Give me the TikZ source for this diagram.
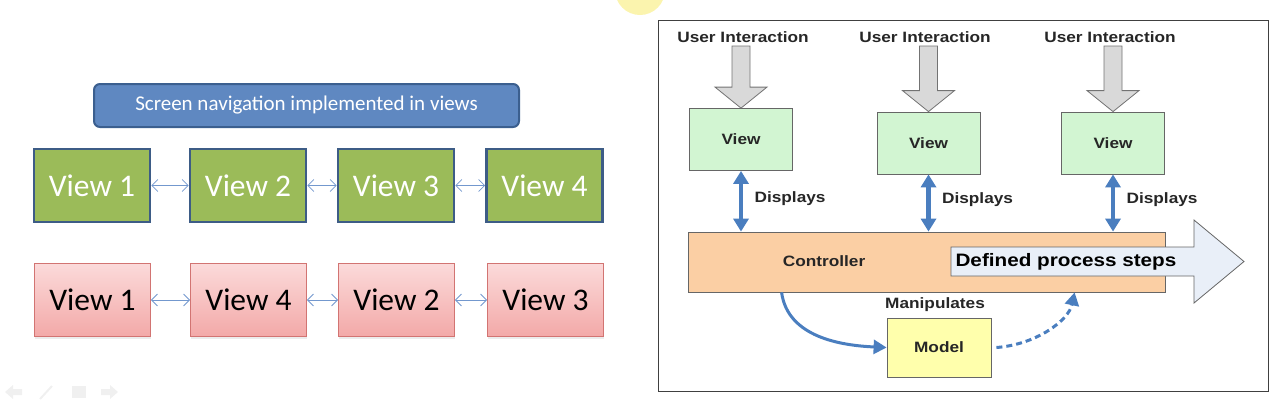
\documentclass[tikz,border=0pt]{standalone}
\usepackage{fontspec}
\setmainfont{Carlito}
\newfontfamily\mvcfont[FakeStretch=1.15]{Liberation Sans}
\usepackage{tikz}
\usetikzlibrary{arrows.meta,calc,shadows}

\definecolor{titlefill}{HTML}{5F88C1}
\definecolor{titleline}{HTML}{3B5F8F}
\definecolor{viewgreen}{HTML}{9BBB59}
\definecolor{viewline}{HTML}{3D5C86}
\definecolor{pinktop}{HTML}{FBDADA}
\definecolor{pinkbot}{HTML}{F3A9A8}
\definecolor{pinkline}{HTML}{D27472}
\definecolor{navblue}{HTML}{7398CE}
\definecolor{mvcblue}{HTML}{4A7EBF}
\definecolor{mvcgreen}{HTML}{D2F5D2}
\definecolor{ctrlfill}{HTML}{FBCFA4}
\definecolor{stepsfill}{HTML}{E9EFF8}
\definecolor{modelfill}{HTML}{FFFFAC}
\definecolor{arrowfill}{HTML}{D9D9D9}
\definecolor{glow}{HTML}{FBF4AE}

\begin{document}
\begin{tikzpicture}[x=1pt, y=-1pt,
    titlebox/.style={draw=titleline, line width=2pt, fill=titlefill, rounded corners=6pt, text=white, minimum width=425pt, minimum height=43pt, font=\fontsize{21}{24}\selectfont},
    greenview/.style={draw=viewline, line width=2.6pt, fill=viewgreen, text=white, minimum width=116pt, minimum height=73pt, font=\fontsize{31.5}{34}\selectfont},
    pinkview/.style={draw=pinkline, line width=.8pt, top color=pinktop, bottom color=pinkbot, text=black, minimum width=116pt, minimum height=73pt, font=\fontsize{31.5}{34}\selectfont, drop shadow={opacity=.15, shadow xshift=0pt, shadow yshift=-2pt}},
    navarrow/.style={draw=navblue, line width=.8pt, {Straight Barb[length=6pt,width=12pt]}-{Straight Barb[length=6pt,width=12pt]}},
    mvctext/.style={font=\mvcfont\bfseries\fontsize{15}{17}\selectfont, text=black!85},
    mvcview/.style={mvctext, draw=black!60, line width=.8pt, fill=mvcgreen, minimum width=103pt, minimum height=62pt},
    blockarrow/.style={draw=black!55, fill=arrowfill, line width=.8pt,
      to path={let \p1=(\tikztostart), \p2=(\tikztotarget) in
        (\x2-9pt,\y1) -- (\x2+9pt,\y1) -- (\x2+9pt,\y2+21pt) -- (\x2+26pt,\y2+21pt) -- (\p2) -- (\x2-26pt,\y2+21pt) -- (\x2-9pt,\y2+21pt) -- cycle}},
    displays/.style={draw=mvcblue, line width=4.5pt, {Triangle[length=13pt,width=15pt]}-{Triangle[length=13pt,width=15pt]}},
    manipline/.style={draw=mvcblue, line width=3pt, -{Triangle[length=13pt,width=14pt]}}]
  \useasboundingbox (0,0) rectangle (1273,405);
  \fill[glow] (640,-10) circle (25pt);

  % left slide
  \node[titlebox] (title) at (306.5,105.5) {Screen navigation implemented in views};
  \node[greenview] (g1) at (92,185.5) {View 1};
  \node[greenview] (g2) at (248,185.5) {View 2};
  \node[greenview] (g3) at (396,185.5) {View 3};
  \node[greenview] (g4) at (544.5,185.5) {View 4};
  \node[pinkview] (p1) at (92.5,300) {View 1};
  \node[pinkview] (p2) at (248.5,300) {View 4};
  \node[pinkview] (p3) at (396.5,300) {View 2};
  \node[pinkview] (p4) at (545.5,300) {View 3};
  \foreach \a/\b in {g1/g2, g2/g3, g3/g4, p1/p2, p2/p3, p3/p4}
    \draw[navarrow] (\a) -- (\b);

  \fill[black!6] (5,392) -- (13,385) -- (13,389) -- (22,389) -- (22,395) -- (13,395) -- (13,399) -- cycle;
  \draw[black!6, line width=2pt] (40,399) -- (52,386);
  \fill[black!6] (72,386) rectangle (86,398);
  \fill[black!6] (118,392) -- (110,385) -- (110,389) -- (101,389) -- (101,395) -- (110,395) -- (110,399) -- cycle;

  % right slide
  \draw[black!75, line width=.9pt] (658,20) rectangle (1268,391);
  \node[mvctext] (ui1) at (743,37) {User Interaction};
  \node[mvctext] (ui2) at (925,37) {User Interaction};
  \node[mvctext] (ui3) at (1110,37) {User Interaction};
  \node[mvcview] (v1) at (741,139.5) {View};
  \node[mvcview] (v2) at (928.5,143) {View};
  \node[mvcview] (v3) at (1113,143) {View};
  \draw[blockarrow] (ui1.south) to (v1.north);
  \draw[blockarrow] (ui2.south) to (v2.north);
  \draw[blockarrow] (ui3.south) to (v3.north);

  \node[draw=black!60, line width=.8pt, fill=ctrlfill, minimum width=477pt, minimum height=60pt] (ctrl) at (926.5,262) {};
  \node[mvctext] (ctrllabel) at (824,261) {Controller};
  \draw[displays] (v1.south) -- (v1.south |- ctrl.north) node[midway, right=8pt, yshift=3pt, mvctext]{Displays};
  \draw[displays] (v2.south) -- (v2.south |- ctrl.north) node[midway, right=8pt, yshift=3pt, mvctext]{Displays};
  \draw[displays] (v3.south) -- (v3.south |- ctrl.north) node[midway, right=8pt, yshift=3pt, mvctext]{Displays};

  \draw[draw=black!60, line width=.8pt, fill=stepsfill] (951,247) -- (1194,247) -- (1194,220) -- (1244,261.5) -- (1194,303) -- (1194,276) -- (951,276) -- cycle;
  \node[mvctext, anchor=west, text=black, font=\mvcfont\bfseries\fontsize{18}{20}\selectfont] (steps) at (952,261.5) {Defined process steps};

  \node[mvctext] (manip) at (935,305) {Manipulates};
  \node[mvctext, draw=black!60, line width=.8pt, fill=modelfill, minimum width=104pt, minimum height=59pt] (model) at (939,347.5) {Model};
  \draw[manipline] ([xshift=94pt]ctrl.south west) .. controls +(6,45) and +(-45,-2) .. (model.west);
  \draw[manipline, dash pattern=on 6pt off 4pt] ([xshift=5pt]model.east) .. controls +(40,-3) and +(-6,28) .. ([xshift=387pt]ctrl.south west);
\end{tikzpicture}
\end{document}
